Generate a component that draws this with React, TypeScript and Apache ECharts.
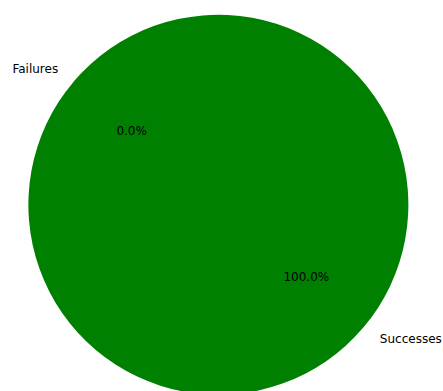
import React, { useEffect, useRef } from "react";
import * as echarts from "echarts";

const categories = ["Failures", "Successes"];
const values = [0, 100];
const colors = ["#1f77b4", "#008000"];

export default function App() {
  const ref = useRef<HTMLDivElement>(null);
  useEffect(() => {
    document.body.style.margin = "0";
    const chart = echarts.init(ref.current!, null, { renderer: "svg" });
    const cx = 219;
    const cy = 204;
    const r = 190;
    const font = { fontFamily: "DejaVu Sans", fontSize: 12, color: "#000000", padding: [3, 0, 0, 0] };
    const data = categories.map((name, i) => ({
      name,
      value: values[i],
      itemStyle: { color: colors[i] },
    }));
    chart.setOption({
      animation: false,
      backgroundColor: "#ffffff",
      series: [
        {
          type: "pie",
          center: [cx, cy],
          radius: [0, r],
          startAngle: 140,
          clockwise: true,
          avoidLabelOverlap: false,
          silent: true,
          itemStyle: { borderWidth: 0 },
          data,
          label: {
            show: true,
            position: "outside",
            formatter: "{b}",
            distanceToLabelLine: 0,
            overflow: "none",
            ...font,
          },
          labelLine: { show: false, length: 20, length2: 0 },
        },
        {
          type: "pie",
          center: [cx, cy],
          radius: [0, r * 1.2 - 6],
          startAngle: 140,
          clockwise: true,
          avoidLabelOverlap: false,
          silent: true,
          z: 3,
          itemStyle: { color: "rgba(0,0,0,0)", borderWidth: 0 },
          data: categories.map((name, i) => ({ name, value: values[i] })),
          label: {
            show: true,
            position: "inside",
            formatter: (p: any) => `${(p.percent ?? 0).toFixed(1)}%`,
            ...font,
          },
          labelLine: { show: false },
        },
      ],
    });
    return () => chart.dispose();
  }, []);
  return <div ref={ref} style={{ width: 443, height: 391 }} />;
}
